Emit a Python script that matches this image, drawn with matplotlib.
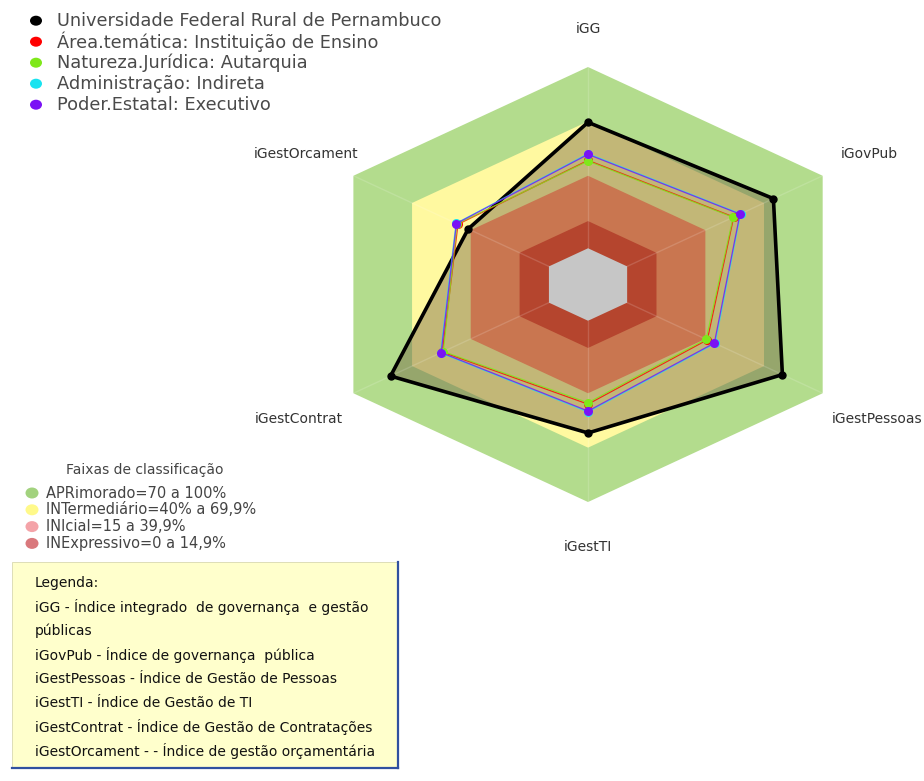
import numpy as np
import matplotlib
matplotlib.use("Agg")
import matplotlib.pyplot as plt
from matplotlib.patches import Ellipse, Rectangle

plt.rcParams['font.family'] = ['DejaVu Sans']

# eixos do radar (sentido horario a partir do topo)
eixos = ["iGG", "iGovPub", "iGestPessoas", "iGestTI", "iGestContrat", "iGestOrcament"]
angulos = np.deg2rad([90, 30, -30, -90, -150, 150])

# valores (0 a 100)
ufrpe = [69.5, 74.8, 79.4, 61.9, 81.0, 41.3]
area_tematica = [48.5, 54.5, 41.0, 46.0, 54.5, 46.5]
natureza = [48.1, 54.2, 40.4, 45.2, 54.0, 47.0]
administracao = [52.2, 58.0, 45.0, 50.3, 55.4, 47.5]
poder_estatal = [51.8, 57.7, 44.6, 49.8, 55.1, 47.3]

series_nomes = ["Universidade Federal Rural de Pernambuco",
                "Área.temática: Instituição de Ensino",
                "Natureza.Jurídica: Autarquia",
                "Administração: Indireta",
                "Poder.Estatal: Executivo"]
series_cores = ["black", "#ff0000", "#7fe81a", "#19e3f0", "#7a12f5"]

# faixas de classificacao
faixas_nomes = ["APRimorado=70 a 100%", "INTermediário=40% a 69,9%",
                "INIcial=15 a 39,9%", "INExpressivo=0 a 14,9%"]
faixas_limites = [100, 70, 40, 15]
faixas_cores_legenda = ["#a2d27e", "#fff98a", "#f4a3a8", "#d9787c"]

legenda_linhas = ["Legenda:",
                  "iGG - Índice integrado  de governança  e gestão",
                  "públicas",
                  "iGovPub - Índice de governança  pública",
                  "iGestPessoas - Índice de Gestão de Pessoas",
                  "iGestTI - Índice de Gestão de TI",
                  "iGestContrat - Índice de Gestão de Contratações",
                  "iGestOrcament - - Índice de gestão orçamentária"]

OFFSET = 20  # buraco central


def hexagono(vals):
    r = np.asarray(vals, dtype=float) + OFFSET
    x = r * np.cos(angulos)
    y = r * np.sin(angulos)
    return np.append(x, x[0]), np.append(y, y[0])


fig = plt.figure(figsize=(9.24, 7.81), dpi=100)

ax = fig.add_axes([0.2943, 0.2876, 0.6842, 0.6962])
ax.set_facecolor('none')
ax.set_xlim(-140, 140)
ax.set_ylim(-150, 150)
ax.axis('off')

# faixas de fundo
cores_fundo = ["#b3dc8d", "#fff9a0"]
for lim, c in zip(faixas_limites[:2], cores_fundo):
    x, y = hexagono([lim] * 6)
    ax.fill(x, y, color=c, lw=0, zorder=1)

# preenchimento do poligono da universidade
x, y = hexagono(ufrpe)
ax.fill(x, y, color="#6e5c40", alpha=0.42, lw=0, zorder=2)

cores_internas = ["#c97650", "#b5452e"]
for lim, c in zip(faixas_limites[2:], cores_internas):
    x, y = hexagono([lim] * 6)
    ax.fill(x, y, color=c, lw=0, zorder=3)
x, y = hexagono([0] * 6)
ax.fill(x, y, color="#c6c6c6", lw=0, zorder=4)

# raios
for a in angulos:
    ax.plot([OFFSET * np.cos(a), 120 * np.cos(a)], [OFFSET * np.sin(a), 120 * np.sin(a)],
            color="white", alpha=0.15, lw=1, zorder=4)

# series
valores = [ufrpe, area_tematica, natureza, administracao, poder_estatal]
for i, (vals, c) in enumerate(zip(valores, series_cores)):
    x, y = hexagono(vals)
    if i == 0:
        ax.plot(x, y, color=c, lw=2.6, zorder=5)
        ax.plot(x[:-1], y[:-1], 'o', color=c, ms=5, zorder=6)
    else:
        ax.plot(x, y, color=c, lw=0.9, alpha=0.8, zorder=6 + i)
        ax.plot(x[:-1], y[:-1], 'o', color=c, ms=6.5, mec='none', zorder=6 + i)

# rotulos dos eixos
r_rot = [141, 144, 148, 145, 148, 144]
for nome, a, rr in zip(eixos, angulos, r_rot):
    ax.text(rr * np.cos(a), rr * np.sin(a), nome, ha='center', va='center',
            fontsize=10, color="#333333", zorder=20)

# camada em pixels para legendas
ov = fig.add_axes([0, 0, 1, 1])
ov.set_xlim(0, 924)
ov.set_ylim(781, 0)
ov.axis('off')
ov.set_facecolor('none')

for k, (nome, c) in enumerate(zip(series_nomes, series_cores)):
    yy = 20.7 + k * 21
    ov.add_patch(Ellipse((36, yy), 12, 10, color=c, lw=0))
    ov.text(57, yy, nome, va='center', ha='left', fontsize=12.8, color="#4a4a4a")

ov.text(145, 470, "Faixas de classificação", ha='center', va='center',
        fontsize=10, color="#444444")
for k, (nome, c) in enumerate(zip(faixas_nomes, faixas_cores_legenda)):
    yy = 493 + k * 16.8
    ov.add_patch(Ellipse((32, yy), 13, 11, color=c, lw=0))
    ov.text(46, yy, nome, va='center', ha='left', fontsize=10.5, color="#444444")

# caixa de legenda
ov.add_patch(Rectangle((12, 562), 386, 206, facecolor="#ffffcc",
                       edgecolor="#d8d8b0", lw=0.6))
ov.plot([398, 398], [562, 768], color="#3050a0", lw=1.6)
ov.plot([12, 398], [768, 768], color="#3050a0", lw=1.6)
for k, linha in enumerate(legenda_linhas):
    ov.text(35, 583 + k * 24, linha, va='center', ha='left', fontsize=10, color="#111111")

fig.savefig("out.png", dpi=100)
